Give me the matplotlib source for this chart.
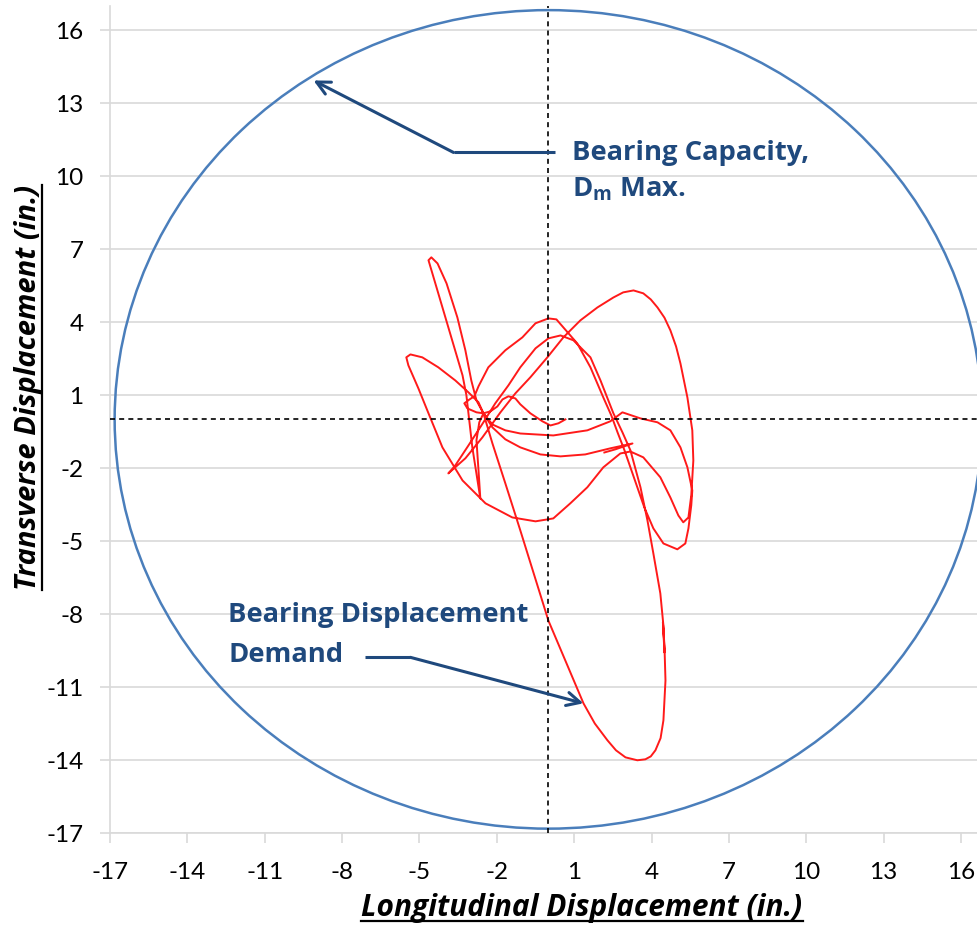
import matplotlib
import matplotlib.pyplot as plt
from matplotlib.lines import Line2D
from matplotlib.patches import Circle

matplotlib.use("Agg")

plt.rcParams["font.family"] = ["Lato", "DejaVu Sans"]
plt.rcParams["axes.unicode_minus"] = False
plt.rcParams["mathtext.fontset"] = "custom"
plt.rcParams["mathtext.rm"] = "Open Sans:bold"

# bearing capacity (radius of the circle, inches)
capacity_radius = 16.82

tick_values = [-17, -14, -11, -8, -5, -2, 1, 4, 7, 10, 13, 16]

# bearing displacement demand orbit (in.)
long_disp = [
    0.66, 0.39, 0.08, -0.23, -0.70, -1.09, -1.28, -1.55, -1.78, -1.98, -2.25, -2.52,
    -2.79, -3.14, -3.26, -3.06, -2.87, -2.71, -2.33, -1.67, -1.01, -0.50, 0.00, 0.31,
    0.58, 1.12, 1.63, 2.13, 2.44, 2.68, 2.95, 3.18, 3.45, 3.72, 4.07, 4.46, 5.00, 5.31,
    5.43, 5.54, 5.58, 5.39, 5.12, 4.73, 4.23, 3.57, 2.87, 2.40, 1.51, 0.19, -1.09, -1.67,
    -2.17, -2.52,
    -2.79, -2.99, -3.22, -3.53, -3.95, -4.30, -4.54, -4.65,
    -4.58, -4.38, -3.99, -3.61, -3.33, -3.18, -3.10, -2.95, -2.75, -2.64,
    -2.71, -2.79, -2.68, -2.52,
    -2.71, -3.10, -3.61, -4.27, -4.89, -5.35, -5.51, -5.43,
    -5.31, -5.04, -4.65, -4.11, -3.33, -2.44, -1.40, -0.50, 0.19, 0.85, 1.51, 2.13,
    2.79, 3.18, 3.68, 4.34, 4.73, 5.04, 5.23, 5.43, 5.54, 5.62, 5.58, 5.39, 5.12, 4.95,
    4.73, 4.50, 4.23, 3.97, 3.68, 3.30, 2.90, 2.52, 1.90, 1.24, 0.58, -0.04, -0.70, -1.28,
    -1.86, -2.56, -3.22, -3.88,
    -3.61, -3.10, -2.52, -2.06, -1.55, -1.09, -0.50, 0.00, 0.47, 0.97, 1.63, 2.02, 2.52,
    2.87, 3.18, 3.57, 3.84, 4.07, 4.34, 4.46, 4.50, 4.44, 4.50, 4.54, 4.46, 4.35, 4.15,
    3.97, 3.76, 3.45, 2.99, 2.62, 2.29, 1.80, 1.36, 0.00, -1.09, -1.67, -2.17, -2.52,
    -2.17, -1.67, -1.09, -0.31, 0.47, 1.43, 2.40, 3.26, 2.60, 2.17,
]
trans_disp = [
    0.00, -0.16, -0.25, -0.08, 0.25, 0.62, 0.86, 0.95, 0.82, 0.53, 0.33, 0.25,
    0.29, 0.45, 0.66, 0.82, 0.95, 1.36, 2.14, 2.84, 3.37, 3.95, 4.15, 4.11,
    3.78, 3.12, 2.14, 0.90, 0.16, -0.53, -1.27, -1.97, -2.79, -3.62, -4.48, -5.10, -5.34, -5.10,
    -4.48, -3.53, -2.92, -1.97, -1.15, -0.45, -0.12, 0.04, 0.29, -0.08, -0.45, -0.66, -0.58, -0.45,
    -0.21, 0.25,
    0.78, 1.60, 2.84, 4.19, 5.59, 6.41, 6.66, 6.54,
    6.29, 5.59, 4.19, 2.84, 1.81, 0.99, 0.25, -1.15, -2.51, -3.25,
    -2.10, -0.86, -0.12, 0.25,
    0.70, 1.11, 1.60, 2.14, 2.55, 2.67, 2.55, 2.22,
    1.93, 1.27, 0.25, -1.15, -2.51, -3.45, -4.03, -4.19, -4.07, -3.45, -2.79, -1.97,
    -1.40, -1.32, -1.56, -2.38, -3.21, -3.95, -4.23, -4.03, -3.12, -1.69, -0.45, 0.90, 2.30, 3.00,
    3.66, 4.18, 4.60, 4.93, 5.18, 5.30, 5.22, 5.01, 4.60, 4.07, 3.37, 2.55, 1.73, 1.07,
    0.29, -0.74, -1.60, -2.22,
    -1.89, -1.07, -0.12, 0.66, 1.40, 2.14, 2.92, 3.33, 3.45, 3.25, 2.55, 1.60, 0.25,
    -0.53, -1.27, -2.79, -4.15, -5.51, -7.15, -8.47, -9.58, -8.34, -9.29, -10.73, -12.37, -13.10, -13.60,
    -13.85, -13.97, -14.01, -13.89, -13.60, -13.19, -12.50, -11.67, -8.27, -4.56, -2.63, -0.99, 0.25,
    -0.33, -0.82, -1.15, -1.44, -1.52, -1.44, -1.19, -0.99, -1.23, -1.36,
]

ann_blue = "#1f497d"
grid_grey = "#d9d9d9"

fig = plt.figure(figsize=(9.77, 9.26), dpi=100)
ax = fig.add_axes([0.1126, 0.1004, 0.8874, 0.8934])
ax.set_xlim(-17, 16.62)
ax.set_ylim(-17, 17)

ax.set_xticks(tick_values)
ax.set_yticks(tick_values)
ax.yaxis.grid(True, color=grid_grey, lw=1.2)
ax.set_axisbelow(True)
for side in ["top", "right"]:
    ax.spines[side].set_visible(False)
for side in ["left", "bottom"]:
    ax.spines[side].set_color(grid_grey)
    ax.spines[side].set_linewidth(1.2)
ax.tick_params(axis="both", direction="out", length=7, width=1.2, color=grid_grey,
               labelsize=17.5, labelcolor="black")
ax.tick_params(axis="x", pad=14)
ax.tick_params(axis="y", pad=12)

ax.add_patch(Circle((0, 0), capacity_radius, fill=False, color="#4a7ebb", lw=1.8,
                    zorder=2, clip_on=True))
ax.plot(long_disp, trans_disp, color="#ff1a1a", lw=1.4, zorder=3)

ax.axvline(0, color="black", lw=1.2, ls=(0, (3, 2.5)), zorder=4)
ax.axhline(0, color="black", lw=1.2, ls=(0, (3, 2.5)), zorder=4)

# annotation arrows
ax.plot([0.27, -3.68], [10.97, 10.97], color=ann_blue, lw=2.2, solid_capstyle="butt", zorder=5)
ax.annotate("", xy=(-9.11, 13.93), xytext=(-3.68, 10.97),
            arrowprops=dict(arrowstyle="->", color=ann_blue, lw=2.2, mutation_scale=24,
                            shrinkA=0, shrinkB=0), zorder=5)
ax.plot([-7.10, -5.35], [-9.78, -9.78], color=ann_blue, lw=2.2, solid_capstyle="butt", zorder=5)
ax.annotate("", xy=(1.36, -11.67), xytext=(-5.35, -9.78),
            arrowprops=dict(arrowstyle="->", color=ann_blue, lw=2.2, mutation_scale=24,
                            shrinkA=0, shrinkB=0), zorder=5)

ann_kw = dict(color=ann_blue, fontsize=19.7, fontweight="bold", family="Open Sans",
              ha="left", va="center", zorder=6)
ax.text(0.93, 10.93, "Bearing Capacity,", **ann_kw)
ax.text(0.93, 9.45, r"D$_{\mathrm{m}}$ Max.", **ann_kw)
ax.text(-12.41, -8.05, "Bearing Displacement", **ann_kw)
ax.text(-12.41, -9.70, "Demand", **ann_kw)

xl = fig.text(582 / 977, 1 - 908 / 926, "Longitudinal Displacement (in.)", fontsize=21.5,
              fontweight="bold", style="italic", family="Open Sans", ha="center", va="center")
yl = fig.text(29 / 977, 1 - 185 / 926, "Transverse Displacement (in.)", fontsize=21,
              fontweight="bold", style="italic", family="Open Sans", ha="center", va="top",
              rotation=90)

# underline the axis titles
fig.canvas.draw()
renderer = fig.canvas.get_renderer()
inv = fig.transFigure.inverted()
bb = xl.get_window_extent(renderer).transformed(inv)
fig.add_artist(Line2D([bb.x0, bb.x1], [bb.y0 + 0.002, bb.y0 + 0.002], color="black", lw=1.6,
                      transform=fig.transFigure))
bb = yl.get_window_extent(renderer).transformed(inv)
fig.add_artist(Line2D([bb.x1 - 0.002, bb.x1 - 0.002], [bb.y0, bb.y1], color="black", lw=1.6,
                      transform=fig.transFigure))

fig.savefig("out.png", dpi=100)
plt.close(fig)
